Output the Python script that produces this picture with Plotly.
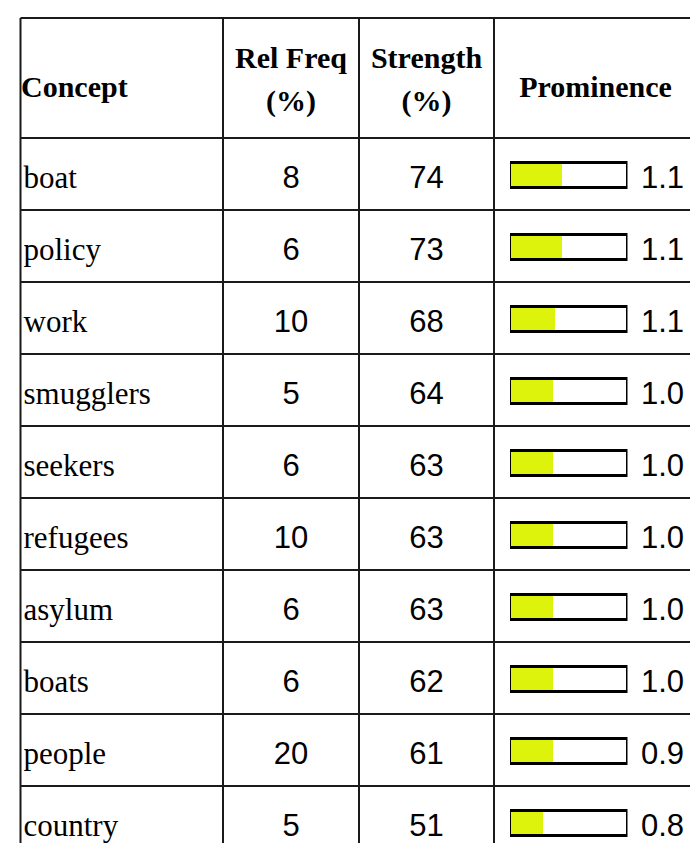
import plotly.graph_objects as go

# ---------------- data ----------------
concepts = ["boat", "policy", "work", "smugglers", "seekers",
            "refugees", "asylum", "boats", "people", "country"]
rel_freq = [8, 6, 10, 5, 6, 10, 6, 6, 20, 5]
strength = [74, 73, 68, 64, 63, 63, 63, 62, 61, 51]
prominence = [1.1, 1.1, 1.1, 1.0, 1.0, 1.0, 1.0, 1.0, 0.9, 0.8]
prominence_bar_pct = [44, 44, 38, 37, 37, 37, 37, 37, 37, 28]   # fill of gauge, % of box
header_line1 = ["Concept", "Rel Freq", "Strength", "Prominence"]
header_line2 = ["", "(%)", "(%)", ""]
title_text = "Strategy"
bar_scale_max = 100

# ---------------- layout constants ----------------
W, H = 698, 843
col_edges = [12.5, 215, 351, 486, 689]
table_top = 10
header_bottom = 130
row_h = 72
fs = 31
fs_head = 30
serif = "Liberation Serif, Times New Roman, serif"
sans = "Liberation Sans, Arial, sans-serif"
fill_color = "#DDF30C"
line_color = "#1a1a1a"

n = len(concepts)
row_centers = [header_bottom + row_h * (i + 0.5) for i in range(n)]
text_y = [c + 6 for c in row_centers]
mid = [(col_edges[i] + col_edges[i + 1]) / 2 for i in range(4)]

fig = go.Figure()

# gauge bars (prominence)
fig.add_trace(go.Bar(
    orientation="h", x=prominence_bar_pct, y=[c + 1 for c in row_centers],
    width=22, marker=dict(color=fill_color, line=dict(width=0)),
    xaxis="x2", yaxis="y", hoverinfo="skip", showlegend=False))
fig.add_trace(go.Bar(
    orientation="h", x=[bar_scale_max] * n, y=[c + 1 for c in row_centers],
    width=25, marker=dict(color="rgba(0,0,0,0)", line=dict(width=3, color="#000")),
    xaxis="x2", yaxis="y", hoverinfo="skip", showlegend=False))

# concept names
fig.add_trace(go.Scatter(
    x=[col_edges[0] + 3] * n, y=text_y, mode="text", text=concepts,
    textposition="middle right", textfont=dict(family=serif, size=fs, color="#000"),
    hoverinfo="skip", showlegend=False, cliponaxis=False))
# rel freq
fig.add_trace(go.Scatter(
    x=[mid[1]] * n, y=text_y, mode="text", text=[str(v) for v in rel_freq],
    textposition="middle center", textfont=dict(family=sans, size=fs, color="#000"),
    hoverinfo="skip", showlegend=False, cliponaxis=False))
# strength
fig.add_trace(go.Scatter(
    x=[mid[2]] * n, y=text_y, mode="text", text=[str(v) for v in strength],
    textposition="middle center", textfont=dict(family=sans, size=fs, color="#000"),
    hoverinfo="skip", showlegend=False, cliponaxis=False))
# prominence value
fig.add_trace(go.Scatter(
    x=[col_edges[4] - 13] * n, y=text_y, mode="text", text=[f"{v:.1f}" for v in prominence],
    textposition="middle left", textfont=dict(family=sans, size=fs, color="#000"),
    hoverinfo="skip", showlegend=False, cliponaxis=False))

# headers
hx = [col_edges[0] + 0.5, mid[1], mid[2], mid[3]]
hpos = ["middle right", "middle center", "middle center", "middle center"]
for i in range(4):
    if header_line2[i]:
        ys = [63 - 0.35 * fs_head, 106 - 0.35 * fs_head]
        txt = [f"<b>{header_line1[i]}</b>", f"<b>{header_line2[i]}</b>"]
    else:
        ys = [92 - 0.35 * fs_head]
        txt = [f"<b>{header_line1[i]}</b>"]
    fig.add_trace(go.Scatter(
        x=[hx[i]] * len(ys), y=ys, mode="text", text=txt, textposition=hpos[i],
        textfont=dict(family=serif, size=fs_head, color="#000"),
        hoverinfo="skip", showlegend=False, cliponaxis=False))

# title (mostly cut off at top)
fig.add_trace(go.Scatter(
    x=[134], y=[1.5 - 0.35 * 48], mode="text", text=[f"<b>{title_text}</b>"],
    textposition="middle right", textfont=dict(family=serif, size=48, color="#000"),
    hoverinfo="skip", showlegend=False, cliponaxis=False))

# table grid
shapes = []
h_lines = [table_top, header_bottom] + [header_bottom + row_h * (i + 1) for i in range(n - 1)]
for yy in h_lines:
    shapes.append(dict(type="line", xref="x", yref="y", x0=col_edges[0], x1=col_edges[-1],
                       y0=yy, y1=yy, line=dict(color=line_color, width=2), layer="below"))
for j, xx in enumerate(col_edges):
    shapes.append(dict(type="line", xref="x", yref="y", x0=xx, x1=xx, y0=table_top, y1=H + 5,
                       line=dict(color="#555" if j == len(col_edges) - 1 else line_color, width=2),
                       layer="below"))

fig.update_layout(
    width=W, height=H, margin=dict(l=0, r=0, t=0, b=0),
    paper_bgcolor="white", plot_bgcolor="rgba(0,0,0,0)",
    barmode="overlay", bargap=0,
    shapes=shapes,
    xaxis=dict(range=[0, W], visible=False, fixedrange=True),
    xaxis2=dict(domain=[502 / W, 619.5 / W], range=[0, bar_scale_max], visible=False,
                fixedrange=True, anchor="y"),
    yaxis=dict(range=[H, 0], visible=False, fixedrange=True),
)

fig.write_html("out.html")
